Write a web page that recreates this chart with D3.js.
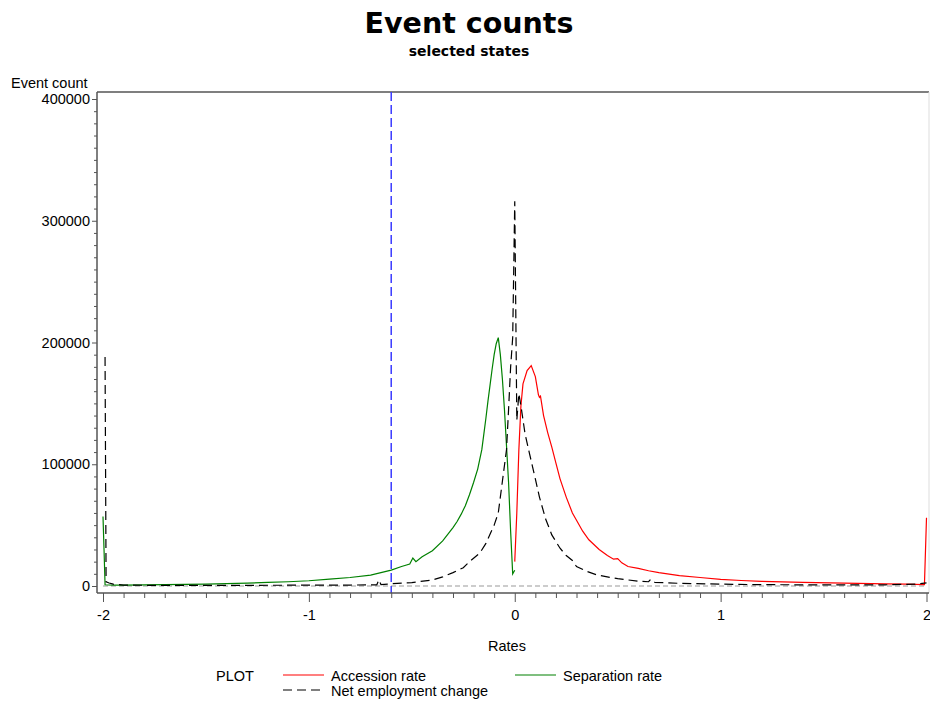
<!DOCTYPE html>
<html>
<head>
<meta charset="utf-8">
<script src="https://cdn.jsdelivr.net/npm/d3@7"></script>
<style>
  body { margin: 0; background: #fff; }
  text { font-family: "Liberation Sans", Arial, sans-serif; }
</style>
</head>
<body>
<div class="canvas"></div>
<script>
const WIDTH = 930;
const HEIGHT = 702;

// data
const accessionX = [0.00, 0.01, 0.02, 0.03, 0.04, 0.06, 0.08, 0.10, 0.115, 0.12, 0.125, 0.14, 0.16, 0.18, 0.20, 0.22, 0.25, 0.28, 0.30, 0.33, 0.36, 0.41, 0.45, 0.48, 0.50, 0.52, 0.55, 0.60, 0.65, 0.70, 0.80, 0.90, 1.00, 1.10, 1.20, 1.40, 1.60, 1.80, 1.90, 1.99, 2.00];
const accessionY = [20000, 60000, 112000, 148000, 166000, 177000, 181000, 172000, 157000, 155000, 156000, 140000, 126000, 114000, 101000, 88000, 73000, 60000, 54000, 45000, 38000, 30000, 25000, 22000, 22500, 19000, 16000, 14500, 12500, 11000, 8500, 7000, 5500, 4500, 3800, 3000, 2300, 1800, 1500, 1200, 56000];

const separationX = [-2.00, -1.995, -1.99, -1.95, -1.90, -1.80, -1.70, -1.60, -1.50, -1.40, -1.30, -1.20, -1.10, -1.00, -0.90, -0.80, -0.70, -0.60, -0.55, -0.51, -0.495, -0.48, -0.45, -0.40, -0.35, -0.30, -0.28, -0.26, -0.24, -0.22, -0.20, -0.18, -0.16, -0.15, -0.14, -0.13, -0.12, -0.11, -0.10, -0.09, -0.08, -0.07, -0.06, -0.05, -0.04, -0.03, -0.02, -0.01, 0.00];
const separationY = [57000, 30000, 1000, 800, 800, 1000, 1200, 1400, 1600, 2000, 2400, 2900, 3500, 4300, 5600, 7000, 9000, 13000, 16000, 18000, 23000, 20000, 24000, 29000, 37000, 48000, 53000, 59000, 66000, 75000, 85000, 96000, 112000, 125000, 138000, 152000, 165000, 178000, 190000, 199000, 204000, 190000, 170000, 145000, 115000, 85000, 45000, 10000, 13000];

const netX = [-1.99, -1.985, -1.97, -1.95, -1.90, -1.80, -1.60, -1.40, -1.20, -1.00, -0.80, -0.70, -0.67, -0.66, -0.65, -0.60, -0.50, -0.40, -0.35, -0.30, -0.25, -0.22, -0.17, -0.14, -0.10, -0.08, -0.06, -0.04, -0.03, -0.02, -0.01, 0.00, 0.01, 0.02, 0.03, 0.05, 0.07, 0.10, 0.12, 0.15, 0.18, 0.22, 0.25, 0.28, 0.30, 0.35, 0.40, 0.50, 0.60, 0.65, 0.66, 0.68, 0.80, 1.00, 1.20, 1.50, 1.80, 1.95, 2.00];
const netY = [188000, 3500, 2500, 1500, 800, 600, 500, 500, 600, 700, 800, 900, 1000, 5000, 1200, 1800, 2800, 5000, 7500, 11000, 15000, 20000, 27000, 35000, 50000, 60000, 86000, 112000, 145000, 180000, 204000, 316000, 136000, 158000, 148000, 125000, 110000, 88000, 73000, 55000, 42000, 31000, 25000, 21000, 16000, 12000, 9000, 6000, 4000, 3500, 5500, 3000, 2200, 1500, 1100, 900, 1000, 1500, 2500];

const xTicks = [-2, -1, 0, 1, 2];
const yTicks = [0, 100000, 200000, 300000, 400000];
const refX = -0.6;

const legendItems = [
  { name: 'Accession rate', color: '#ff0000', dash: null },
  { name: 'Separation rate', color: '#008000', dash: null },
  { name: 'Net employment change', color: '#000', dash: '9,5' }
];

// frame
const frame = { left: 97, right: 929, top: 92, bottom: 593 };

// colors
const axisGray = '#555';
const refBlue = '#3c3cff';

const svg = d3.select('.canvas')
  .append('svg')
    .attr('width', WIDTH)
    .attr('height', HEIGHT);

// scales
const x = d3.scaleLinear()
  .domain([-2, 2])
  .range([103, 926.5]);

const y = d3.scaleLinear()
  .domain([0, 400000])
  .range([586, 99]);

// titles
svg.append('text')
  .attr('x', 469).attr('y', 33)
  .attr('text-anchor', 'middle')
  .style('font-family', '"DejaVu Sans", sans-serif')
  .style('font-weight', 'bold')
  .style('font-size', '28.5px')
  .text('Event counts');

svg.append('text')
  .attr('x', 469).attr('y', 56)
  .attr('text-anchor', 'middle')
  .style('font-family', '"DejaVu Sans", sans-serif')
  .style('font-weight', 'bold')
  .style('font-size', '14px')
  .text('selected states');

// frame lines
svg.append('line')
  .attr('x1', frame.left).attr('x2', frame.right)
  .attr('y1', frame.top).attr('y2', frame.top)
  .attr('stroke', axisGray).attr('stroke-width', 1.5);

svg.append('line')
  .attr('x1', frame.right).attr('x2', frame.right)
  .attr('y1', frame.top).attr('y2', frame.bottom)
  .attr('stroke', '#ddd').attr('stroke-width', 1);

// reference lines
svg.append('line')
  .attr('x1', x(-2)).attr('x2', x(2))
  .attr('y1', y(0)).attr('y2', y(0))
  .attr('stroke', '#999').attr('stroke-width', 1)
  .attr('stroke-dasharray', '5,3');

svg.append('line')
  .attr('x1', x(refX)).attr('x2', x(refX))
  .attr('y1', frame.top).attr('y2', frame.bottom)
  .attr('stroke', refBlue).attr('stroke-width', 1.5)
  .attr('stroke-dasharray', '9,4');

// axes
const xAxisGroup = svg.append('g')
  .attr('transform', `translate(0, ${frame.bottom})`);
const xMinorGroup = svg.append('g')
  .attr('transform', `translate(0, ${frame.bottom})`);
const yAxisGroup = svg.append('g')
  .attr('transform', `translate(${frame.left}, 0)`);
const yMinorGroup = svg.append('g')
  .attr('transform', `translate(${frame.left}, 0)`);

const xAxis = d3.axisBottom(x)
  .tickValues(xTicks)
  .tickSize(9)
  .tickPadding(8)
  .tickFormat(d => String(d));

const xMinor = d3.axisBottom(x)
  .tickValues(d3.range(-20, 21).filter(d => d % 10 !== 0).map(d => d / 10))
  .tickSize(5)
  .tickFormat('');

const yAxis = d3.axisLeft(y)
  .tickValues(yTicks)
  .tickSize(5)
  .tickPadding(2)
  .tickFormat(d => String(d));

const yMinor = d3.axisLeft(y)
  .tickValues(d3.range(0, 41).filter(d => d % 10 !== 0).map(d => d * 10000))
  .tickSize(3)
  .tickFormat('');

xAxisGroup.call(xAxis);
xMinorGroup.call(xMinor);
yAxisGroup.call(yAxis);
yMinorGroup.call(yMinor);

[xAxisGroup, xMinorGroup, yAxisGroup, yMinorGroup].forEach(g => {
  g.select('.domain').remove();
  g.selectAll('line').attr('stroke', axisGray);
  g.selectAll('text')
    .attr('fill', '#000')
    .style('font-family', '"Liberation Sans", Arial, sans-serif')
    .style('font-size', '14.5px');
});

// axis lines
svg.append('line')
  .attr('x1', frame.left).attr('x2', frame.left)
  .attr('y1', frame.top).attr('y2', frame.bottom)
  .attr('stroke', axisGray).attr('stroke-width', 1.5);

svg.append('line')
  .attr('x1', frame.left).attr('x2', frame.right)
  .attr('y1', frame.bottom).attr('y2', frame.bottom)
  .attr('stroke', axisGray).attr('stroke-width', 1.5);

// axis labels
svg.append('text')
  .attr('x', 11).attr('y', 88)
  .style('font-size', '14.5px')
  .text('Event count');

svg.append('text')
  .attr('x', 507).attr('y', 651)
  .attr('text-anchor', 'middle')
  .style('font-size', '14.5px')
  .text('Rates');

// line generator
const line = d3.line()
  .x(d => x(d[0]))
  .y(d => y(d[1]));

const series = [
  { xs: accessionX, ys: accessionY, item: legendItems[0] },
  { xs: separationX, ys: separationY, item: legendItems[1] },
  { xs: netX, ys: netY, item: legendItems[2] }
];

series.forEach(s => {
  svg.append('path')
    .datum(d3.zip(s.xs, s.ys))
    .attr('fill', 'none')
    .attr('stroke', s.item.color)
    .attr('stroke-width', 1.2)
    .attr('stroke-dasharray', s.item.dash)
    .attr('d', line);
});

// legend
const legend = svg.append('g');

legend.append('text')
  .attr('x', 216).attr('y', 681)
  .style('font-size', '14.5px')
  .text('PLOT');

const legendPos = [
  { x: 283, y: 675 },
  { x: 515, y: 675 },
  { x: 283, y: 690 }
];

legendItems.forEach((item, i) => {
  const p = legendPos[i];
  legend.append('line')
    .attr('x1', p.x).attr('x2', p.x + 41)
    .attr('y1', p.y).attr('y2', p.y)
    .attr('stroke', item.color)
    .attr('stroke-width', 1.2)
    .attr('stroke-dasharray', item.dash);
  legend.append('text')
    .attr('x', p.x + 48).attr('y', p.y + 6)
    .style('font-size', '14.5px')
    .text(item.name);
});
</script>
</body>
</html>
